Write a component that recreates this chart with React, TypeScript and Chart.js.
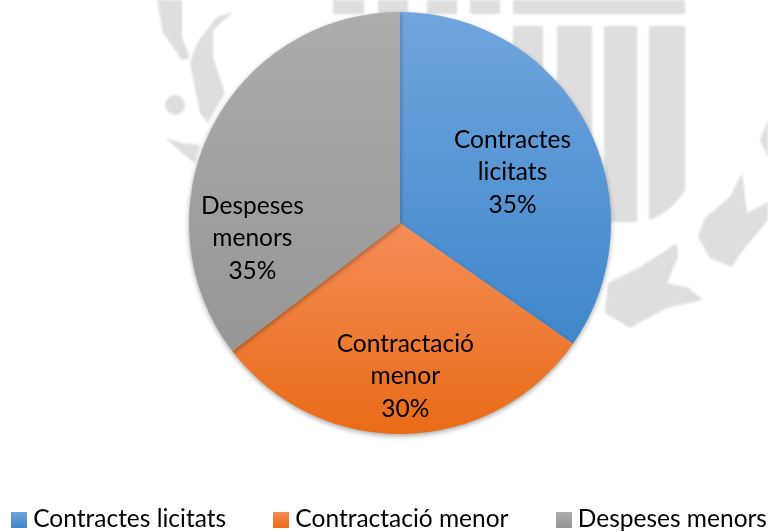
import React, { useEffect, useRef } from "react";
import { Chart, registerables } from "chart.js";

Chart.register(...registerables);

const categories = ["Contractes licitats", "Contractació menor", "Despeses menors"];
const shares = [34.7, 29.9, 35.4];
const labelLines = [["Contractes", "licitats"], ["Contractació", "menor"], ["Despeses", "menors"]];
const topColors = ["#70a5dd", "#f48d57", "#acacac"];
const bottomColors = ["#3f87cb", "#e96b17", "#969696"];
const FONT = "Lato, 'Open Sans', sans-serif";
const FONT_SIZE = 24.5;

const watermarkPolys: number[][][] = [
  [[742,173],[747,213],[768,202],[768,220],[743,250],[732,267],[710,258],[698,237],[705,218],[730,197]],
  [[677,243],[678,257],[667,283],[687,287],[703,300],[667,308],[630,328],[605,313],[608,283],[640,267]],
  [[768,120],[760,140],[768,157]],
  [[157,0],[182,0],[182,37],[190,58],[182,60],[163,33]],
  [[233,12],[217,17],[197,43],[190,63],[200,113],[208,123],[225,93],[213,57],[213,30]],
  [[165,138],[183,143],[200,145],[195,163],[187,157]],
];
const watermarkRects = [
  [333,0,31,14],[378,0,30,14],[427,0,30,14],[470,0,30,14],[513,0,172,14],
  [513,26,30,100],[557,26,35,200],[604,26,33,196],
];

const watermark = {
  id: "watermark",
  beforeDraw(chart: any) {
    const c = chart.ctx;
    c.save();
    c.fillStyle = "#dedede";
    c.filter = "blur(1px)";
    watermarkRects.forEach(([x, y, w, h]) => c.fillRect(x, y, w, h));
    c.beginPath();
    c.moveTo(649, 26); c.lineTo(685, 26); c.lineTo(685, 190);
    c.quadraticCurveTo(672, 212, 649, 220); c.closePath(); c.fill();
    watermarkPolys.forEach((p) => {
      c.beginPath();
      p.forEach(([x, y], i) => (i ? c.lineTo(x, y) : c.moveTo(x, y)));
      c.closePath();
      c.fill();
    });
    c.beginPath(); c.arc(175, 105, 10, 0, Math.PI * 2); c.fill();
    c.restore();
  },
};

const place = {
  id: "place",
  afterLayout(chart: any) {
    Object.assign(chart.chartArea, { left: 32, right: 768, top: 12, bottom: 434, width: 736, height: 422 });
    const l = chart.legend;
    const pad = l.options.labels.padding;
    const h = l.bottom - l.top;
    l.left = 17 - pad;
    l.top = 507.25 - pad;
    l.bottom = l.top + h;
  },
  beforeDatasetsDraw(chart: any) {
    const c = chart.ctx;
    c.save();
    c.shadowColor = "rgba(0,0,0,0.35)";
    c.shadowBlur = 5;
    c.shadowOffsetY = 2;
  },
  afterDatasetsDraw(chart: any) {
    chart.ctx.restore();
  },
};

const labelShift = [[19, -2], [3, 48], [-53, 62]];
const sliceLabels = {
  id: "sliceLabels",
  afterDraw(chart: any) {
    const c = chart.ctx;
    c.save();
    c.font = `${FONT_SIZE}px ${FONT}`;
    c.fillStyle = "#000";
    c.textAlign = "center";
    c.textBaseline = "middle";
    chart.getDatasetMeta(0).data.forEach((arc: any, i: number) => {
      const p = arc.getCenterPoint();
      const x = p.x + labelShift[i][0];
      const y = p.y + labelShift[i][1];
      const lines = [...labelLines[i], `${Math.round(shares[i])}%`];
      lines.forEach((t, k) => c.fillText(t, x, y + (k - 1) * 32.5));
    });
    c.restore();
  },
};

function swatch(top: string, bottom: string) {
  const s = document.createElement("canvas");
  s.width = 16; s.height = 16;
  const g = s.getContext("2d")!;
  const gr = g.createLinearGradient(0, 0, 0, 16);
  gr.addColorStop(0, top); gr.addColorStop(1, bottom);
  g.fillStyle = gr; g.fillRect(0, 0, 16, 16);
  return s;
}

export default function App() {
  const ref = useRef<HTMLCanvasElement>(null);
  useEffect(() => {
    const canvas = ref.current!;
    const ctx = canvas.getContext("2d")!;
    const spans = [[12, 345], [223, 434], [12, 350]];
    const fills = spans.map(([a, b], i) => {
      const g = ctx.createLinearGradient(0, a, 0, b);
      g.addColorStop(0, topColors[i]);
      g.addColorStop(1, bottomColors[i]);
      return g;
    });
    const chart = new Chart(canvas, {
      type: "pie",
      data: { labels: categories, datasets: [{ data: shares, backgroundColor: fills, borderWidth: 0 }] },
      options: {
        responsive: false,
        animation: false,
        plugins: {
          tooltip: { enabled: false },
          legend: {
            position: "bottom",
            align: "start",
            labels: {
              font: { family: FONT, size: FONT_SIZE },
              color: "#000",
              padding: 53,
              usePointStyle: true,
              pointStyleWidth: 4,
              generateLabels: () =>
                categories.map((text, i) => ({
                  text,
                  fillStyle: topColors[i],
                  strokeStyle: topColors[i],
                  fontColor: "#000",
                  lineWidth: 0,
                  hidden: false,
                  index: i,
                  pointStyle: swatch(topColors[i], bottomColors[i]),
                })),
            },
          },
        },
      },
      plugins: [watermark, place, sliceLabels],
    } as any);
    return () => chart.destroy();
  }, []);
  return (
    <div style={{ position: "fixed", left: 0, top: 0, width: 768, height: 532, background: "#fff", overflow: "hidden" }}>
      <canvas ref={ref} width={900} height={532} style={{ display: "block" }} />
    </div>
  );
}
